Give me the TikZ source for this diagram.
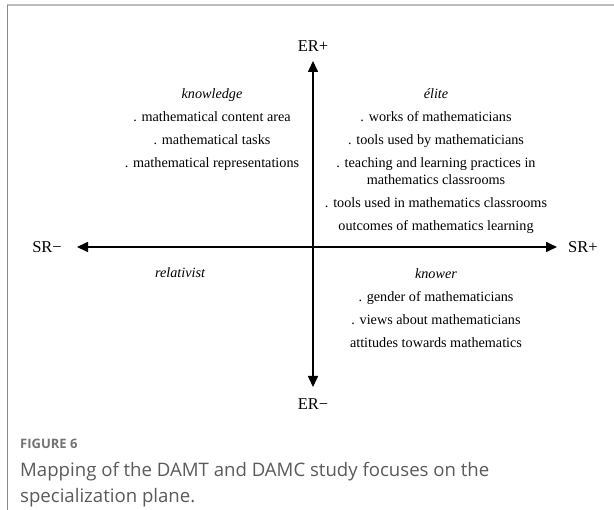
\documentclass[tikz,border=0pt]{standalone}
\usepackage{fontspec}
\setmainfont{Liberation Serif}
\newfontfamily\capfont{Open Sans}
\usepackage{tikz}
\usetikzlibrary{arrows.meta,positioning}
\definecolor{framecol}{HTML}{BDBDBD}
\definecolor{edgecol}{HTML}{8A8A8A}
\definecolor{capcol}{HTML}{5A5A5A}
\tikzset{
  axis/.style={line width=1.6pt,-{Triangle[length=11pt,width=10pt]}},
  pole/.style={font=\fontsize{16.5}{19}\selectfont,inner sep=2pt},
  quad/.style={align=center,anchor=north,inner sep=0pt,font=\fontsize{14.2}{17}\selectfont},
  code/.style={font=\fontsize{14.2}{17}\selectfont\itshape,inner sep=0pt}
}

\begin{document}
\begin{tikzpicture}[x=1pt,y=-1pt]
  \useasboundingbox (0,0) rectangle (614,510);
  \draw[framecol,line width=2pt] (7,5) -- (614,5);
  \draw[edgecol,line width=0.9pt] (7,5) -- (7,510);

  % the plane
  \coordinate (o) at (313,247);
  \node[pole] (erp) at (313,46) {ER+};
  \node[pole] (erm) at (313,404) {ER\textminus};
  \node[pole,anchor=east] (srm) at (64,247) {SR\textminus};
  \node[pole,anchor=west] (srp) at (566,247) {SR+};
  \draw[axis] (o) -- (erp.south |- 0,61);
  \draw[axis] (o) -- (erm.north |- 0,387);
  \draw[axis] (o) -- (srm.east -| 77,0);
  \draw[axis] (o) -- (srp.west -| 557,0);

  % quadrants
  \node[quad] (know) at (212,88) {\textit{knowledge}\\[6pt]
    . mathematical content area\\[6pt]
    . mathematical tasks\\[6pt]
    . mathematical representations};
  \node[quad] (elite) at (436,88) {\textit{élite}\\[6pt]
    . works of mathematicians\\[6pt]
    . tools used by mathematicians\\[6pt]
    . teaching and learning practices in\\
    mathematics classrooms\\[6pt]
    . tools used in mathematics classrooms\\[6pt]
    outcomes of mathematics learning};
  \node[code] (rel) at (180,273) {relativist};
  \node[quad] (knower) at (436,268) {\textit{knower}\\[6pt]
    . gender of mathematicians\\[6pt]
    . views about mathematicians\\[6pt]
    attitudes towards mathematics};

  % caption
  \node[anchor=base west,inner sep=0pt,text=capcol!85,font=\capfont\bfseries\fontsize{13}{15}\selectfont] (fig) at (20,449) {FIGURE 6};
  \node[anchor=north west,inner sep=0pt,align=left,text=capcol,font=\capfont\fontsize{18.6}{26}\selectfont] (cap) at (20,462)
    {Mapping of the DAMT and DAMC study focuses on the\\specialization plane.};
\end{tikzpicture}
\end{document}
